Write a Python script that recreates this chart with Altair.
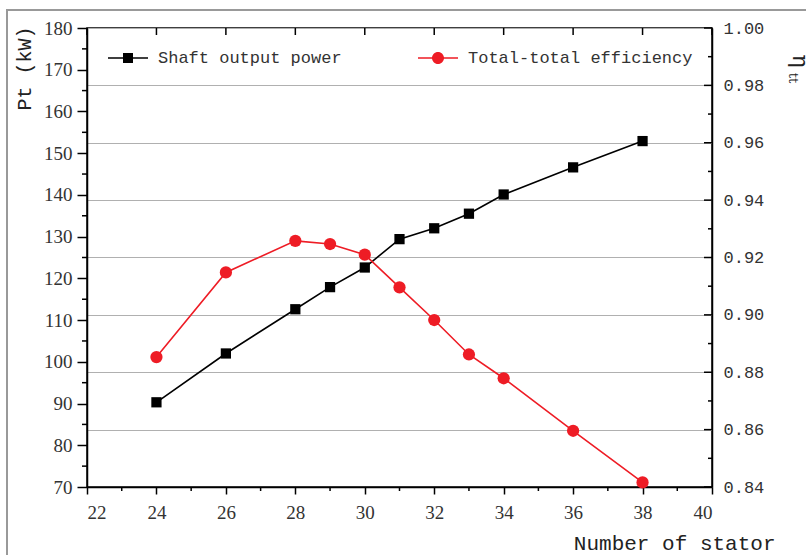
import altair as alt
import pandas as pd

# Stator count on the x axis
stators = [24, 26, 28, 29, 30, 31, 32, 33, 34, 36, 38]
# Shaft output power, kW (left axis)
shaft_power = [90.3, 102.0, 112.6, 117.9, 122.6, 129.4, 132.0, 135.5, 140.1, 146.6, 152.9]
# Total-total efficiency (right axis)
efficiency = [0.8853, 0.9148, 0.9258, 0.9247, 0.9210, 0.9096, 0.8982, 0.8862, 0.8779, 0.8596, 0.8416]

series_names = ["Shaft output power", "Total-total efficiency"]
series_colors = ["#000000", "#ee1c25"]
eta_symbol = ["η"]
eta_subscript = ["tt"]

x_major = list(range(22, 41, 2))
x_minor = list(range(23, 40, 2))
pt_major = list(range(70, 181, 10))
pt_minor = list(range(75, 180, 10))
eta_major = [0.84, 0.86, 0.88, 0.90, 0.92, 0.94, 0.96, 0.98, 1.00]
eta_minor = [0.85, 0.87, 0.89, 0.91, 0.93, 0.95, 0.97, 0.99]

W, H = 625, 459
SERIF = "Liberation Serif"
MONO = "Liberation Mono"

power_df = pd.DataFrame({"stator": stators, "value": shaft_power})
eff_df = pd.DataFrame({"stator": stators, "value": efficiency})
legend_df = pd.DataFrame({"series": series_names})

x_scale = alt.Scale(domain=[22, 40], nice=False, zero=False)
pt_scale = alt.Scale(domain=[70, 180], nice=False, zero=False)
eta_scale = alt.Scale(domain=[0.84, 1.00], nice=False, zero=False)

# legend glyphs: a short line with the marker on it
LINE = "M-1,-0.0375H1V0.0375H-1Z"
SQ_PATH = LINE + " M-0.25,-0.25H0.25V0.25H-0.25Z"
CI_PATH = LINE + " M0.3,0A0.3,0.3 0 1,1 -0.3,0A0.3,0.3 0 1,1 0.3,0Z"
color_scale = alt.Scale(domain=series_names, range=series_colors)
shape_scale = alt.Scale(domain=series_names, range=[SQ_PATH, CI_PATH])

legend = alt.Legend(
    title=None,
    orient="none",
    legendX=21,
    legendY=10,
    direction="horizontal",
    padding=0,
    symbolSize=1600,
    symbolStrokeWidth=0,
    symbolOpacity=1,
    labelFont=MONO,
    labelFontSize=17,
    labelColor="#333333",
    labelOffset=10,
    labelLimit=0,
    columnPadding=76,
)

x_axis = alt.Axis(
    values=x_major,
    title="Number of stator",
    titleFont=MONO,
    titleFontSize=21,
    titleFontWeight="normal",
    titleColor="#222222",
    titleX=688,
    titleY=56,
    titleAlign="right",
    titleBaseline="middle",
    labelFont=SERIF,
    labelFontSize=19,
    labelPadding=9,
    tickSize=7,
    format="d",
)

pt_axis = alt.Axis(
    values=pt_major,
    title="Pt (kW)",
    titleFont=MONO,
    titleFontSize=20,
    titleFontWeight="normal",
    titleColor="#222222",
    titleAngle=270,
    titleX=-63,
    titleY=40,
    titleAlign="center",
    titleBaseline="middle",
    labelFont=SERIF,
    labelFontSize=19,
    labelPadding=5,
    tickSize=10,
    format="d",
)

eta_axis = alt.Axis(
    values=eta_major,
    orient="right",
    title=None,
    labelFont=MONO,
    labelFontSize=17,
    labelPadding=11,
    ticks=False,
    grid=True,
    gridColor="#b0b0b0",
    gridWidth=1.2,
    format=".2f",
)

x_enc = alt.X("stator:Q", scale=x_scale, axis=x_axis)
x_plain = alt.X("stator:Q", scale=x_scale)

# ---- left-axis group: shaft power ----
power_line = alt.Chart(power_df).mark_line(color=series_colors[0], strokeWidth=1.6).encode(
    x=x_enc,
    y=alt.Y("value:Q", scale=pt_scale, axis=pt_axis),
)
power_pts = alt.Chart(power_df).mark_square(color=series_colors[0], size=105, opacity=1).encode(
    x=x_plain,
    y=alt.Y("value:Q", scale=pt_scale),
)
pt_minor_ticks = alt.Chart(pd.DataFrame({"value": pt_minor})).mark_rule(
    color="black", strokeWidth=1.5
).encode(y=alt.Y("value:Q", scale=pt_scale), x=alt.value(-5), x2=alt.value(0))

x_minor_ticks = alt.Chart(pd.DataFrame({"stator": x_minor})).mark_rule(
    color="black", strokeWidth=1.5
).encode(x=x_plain, y=alt.value(H), y2=alt.value(H + 4))

top_ticks = alt.Chart(pd.DataFrame({"stator": x_major})).mark_rule(
    color="black", strokeWidth=1.5
).encode(x=x_plain, y=alt.value(0), y2=alt.value(7))

# legend entries (the glyphs themselves live in the legend)
legend_layer = alt.Chart(legend_df).mark_point(filled=True, opacity=0).encode(
    x=alt.value(0),
    y=alt.value(0),
    color=alt.Color("series:N", scale=color_scale, legend=legend),
    shape=alt.Shape("series:N", scale=shape_scale, legend=legend),
)

left_group = alt.layer(power_line, pt_minor_ticks, x_minor_ticks, top_ticks, power_pts, legend_layer)

# ---- right-axis group: efficiency ----
eff_line = alt.Chart(eff_df).mark_line(color=series_colors[1], strokeWidth=1.6).encode(
    x=x_plain,
    y=alt.Y("value:Q", scale=eta_scale, axis=eta_axis),
)
eff_pts = alt.Chart(eff_df).mark_circle(color=series_colors[1], size=150, opacity=1).encode(
    x=x_plain,
    y=alt.Y("value:Q", scale=eta_scale),
)
eta_major_ticks = alt.Chart(pd.DataFrame({"value": eta_major})).mark_rule(
    color="black", strokeWidth=1.5
).encode(y=alt.Y("value:Q", scale=eta_scale), x=alt.value(W - 8), x2=alt.value(W))
eta_minor_ticks = alt.Chart(pd.DataFrame({"value": eta_minor})).mark_rule(
    color="black", strokeWidth=1.5
).encode(y=alt.Y("value:Q", scale=eta_scale), x=alt.value(W - 4), x2=alt.value(W))

right_group = alt.layer(eff_line, eta_major_ticks, eta_minor_ticks, eff_pts)

# right-axis title (η with subscript tt), turned to read downwards
eta_main = alt.Chart(pd.DataFrame({"t": eta_symbol})).mark_text(
    angle=90, font="DejaVu Serif", fontSize=22, color="#222222", align="center", baseline="middle"
).encode(text="t:N", x=alt.value(W + 88), y=alt.value(33))
eta_sub = alt.Chart(pd.DataFrame({"t": eta_subscript})).mark_text(
    angle=90, font="DejaVu Serif", fontSize=13, color="#222222", align="center", baseline="middle"
).encode(text="t:N", x=alt.value(W + 81), y=alt.value(50))

# outer gray page frame
frame = alt.Chart(pd.DataFrame({"k": [0]})).mark_rect(
    fill=None, stroke="#999999", strokeWidth=2
).encode(x=alt.value(-80), x2=alt.value(W + 200), y=alt.value(-18), y2=alt.value(H + 200))

chart = (
    alt.layer(frame, left_group, right_group, eta_main, eta_sub)
    .resolve_scale(y="independent")
    .properties(
        width=W,
        height=H,
        padding={"left": 87, "top": 28, "right": 94, "bottom": 68},
        autosize=alt.AutoSizeParams(type="none"),
        background="white",
    )
    .configure_view(stroke="black", strokeWidth=1.5)
    .configure_axis(
        domainColor="black",
        domainWidth=1.5,
        tickColor="black",
        tickWidth=1.5,
        labelColor="#333333",
        grid=False,
    )
)

chart.save("out.html", embed_options={"renderer": "svg", "actions": False})
